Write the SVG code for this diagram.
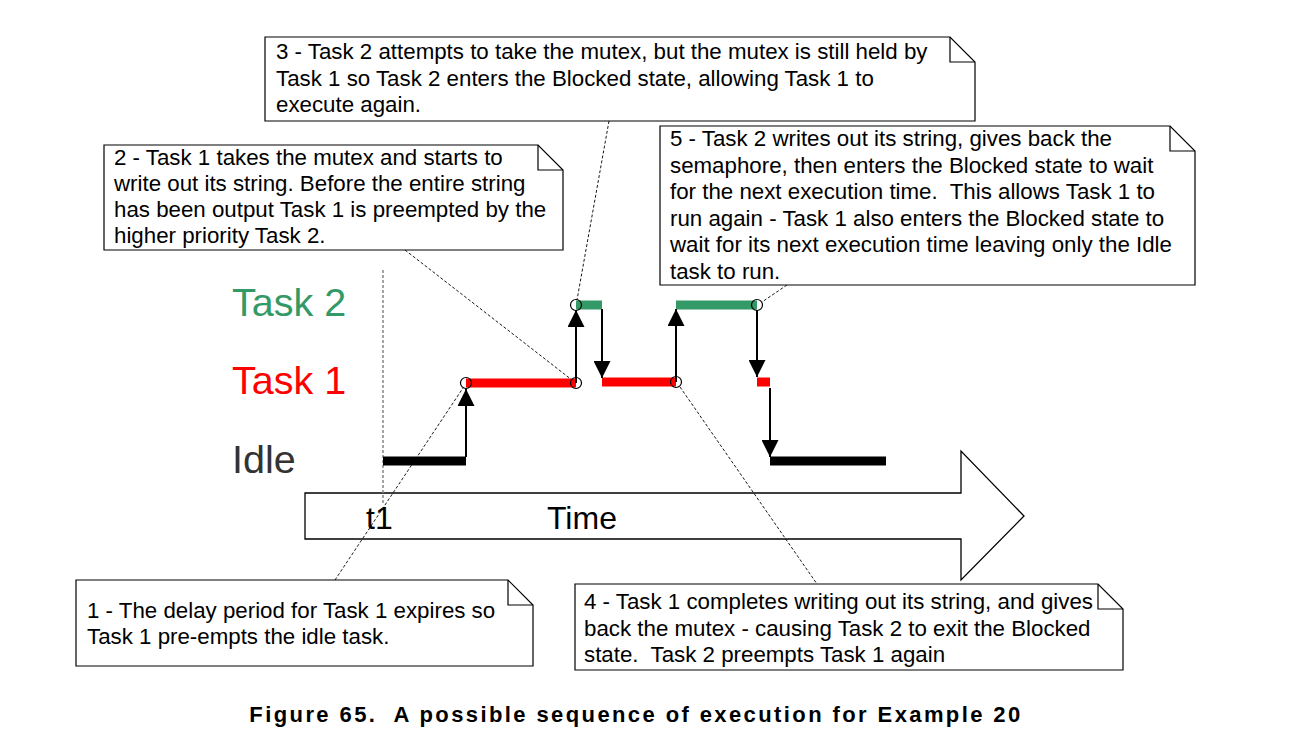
<svg xmlns="http://www.w3.org/2000/svg" width="1313" height="752" viewBox="0 0 1313 752">
<style>
.note{fill:#fff;stroke:#000;stroke-width:1.2}
.fold{fill:none;stroke:#000;stroke-width:1.2}
.nt{font-family:"Liberation Sans",Arial,sans-serif;font-size:22.3px;fill:#000}
.lbl{font-family:"Liberation Sans",Arial,sans-serif;font-size:39.5px}
.lead{stroke:#000;stroke-width:0.9;stroke-dasharray:3 2;fill:none}
.bar{stroke-width:9;fill:none}
.arr{stroke:#000;stroke-width:2;fill:none;marker-end:url(#ah)}
.pt{fill:none;stroke:#000;stroke-width:1.2}
</style>
<defs>
<marker id="ah" viewBox="0 0 10 10" refX="10" refY="5" markerWidth="8.5" markerHeight="8.5" markerUnits="strokeWidth" orient="auto">
<path d="M0,0 L10,5 L0,10 Z" fill="#000"/>
</marker>
</defs>
<rect width="1313" height="752" fill="#fff"/>

<g id="labels">
<text class="lbl" x="232" y="316" fill="#339966">Task 2</text>
<text class="lbl" x="232" y="394" fill="#ff0000">Task 1</text>
<text class="lbl" x="232" y="473" fill="#333333">Idle</text>
</g>

<g id="time-axis">
<path d="M305,493 L961,493 L961,451 L1024,516 L961,580 L961,539 L305,539 Z" fill="#fff" stroke="#000" stroke-width="1.3"/>
<line x1="383" y1="270" x2="383" y2="505" stroke="#888" stroke-width="1.5" stroke-dasharray="3 2"/>
<text x="366" y="529" font-family="Liberation Sans, Arial, sans-serif" font-size="32" fill="#000">t1</text>
<text x="547" y="529" font-family="Liberation Sans, Arial, sans-serif" font-size="32" fill="#000">Time</text>
</g>

<g id="timeline">
<line class="bar" x1="383" y1="461" x2="466" y2="461" stroke="#000"/>
<line class="bar" x1="466" y1="383" x2="576" y2="383" stroke="#ff0000"/>
<line class="bar" x1="576" y1="305" x2="602" y2="305" stroke="#339966"/>
<line class="bar" x1="602" y1="382" x2="676" y2="382" stroke="#ff0000"/>
<line class="bar" x1="676" y1="305" x2="757" y2="305" stroke="#339966"/>
<line class="bar" x1="757" y1="382" x2="770" y2="382" stroke="#ff0000"/>
<line class="bar" x1="770" y1="461" x2="886" y2="461" stroke="#000"/>
</g>

<g id="connectors">
<line class="arr" x1="466" y1="457" x2="466" y2="389"/>
<line class="arr" x1="576" y1="383" x2="576" y2="310"/>
<line class="arr" x1="602" y1="309" x2="602" y2="378"/>
<line class="arr" x1="676" y1="382" x2="676" y2="309"/>
<line class="arr" x1="757" y1="310" x2="757" y2="377"/>
<line class="arr" x1="770" y1="388" x2="770" y2="457"/>
<line class="lead" x1="335" y1="580" x2="463" y2="388"/>
<line class="lead" x1="405" y1="250" x2="572" y2="380"/>
<line class="lead" x1="609" y1="121" x2="577" y2="300"/>
<line class="lead" x1="680" y1="387" x2="817" y2="584"/>
<line class="lead" x1="787" y1="285" x2="762" y2="302"/>
</g>

<g id="points">
<circle class="pt" cx="466" cy="383" r="5.5"/>
<circle class="pt" cx="576" cy="383" r="5.5"/>
<circle class="pt" cx="576" cy="305" r="5.5"/>
<circle class="pt" cx="676" cy="382" r="5.5"/>
<circle class="pt" cx="757" cy="305" r="5.5"/>
</g>

<g id="note3">
<path class="note" d="M265,37 L950,37 L975,62 L975,121 L265,121 Z"/>
<path class="fold" d="M950,37 L950,62 L975,62"/>
<text class="nt"><tspan x="276" y="59">3 - Task 2 attempts to take the mutex, but the mutex is still held by</tspan><tspan x="276" y="85.5">Task 1 so Task 2 enters the Blocked state, allowing Task 1 to</tspan><tspan x="276" y="112">execute again.</tspan></text>
</g>

<g id="note2">
<path class="note" d="M104,145 L538,145 L563,170 L563,250 L104,250 Z"/>
<path class="fold" d="M538,145 L538,170 L563,170"/>
<text class="nt"><tspan x="114" y="165">2 - Task 1 takes the mutex and starts to</tspan><tspan x="114" y="191">write out its string. Before the entire string</tspan><tspan x="114" y="217">has been output Task 1 is preempted by the</tspan><tspan x="114" y="243">higher priority Task 2.</tspan></text>
</g>

<g id="note5">
<path class="note" d="M660,126 L1170,126 L1195,151 L1195,285 L660,285 Z"/>
<path class="fold" d="M1170,126 L1170,151 L1195,151"/>
<text class="nt" xml:space="preserve"><tspan x="670" y="146">5 - Task 2 writes out its string, gives back the</tspan><tspan x="670" y="172.5">semaphore, then enters the Blocked state to wait</tspan><tspan x="670" y="199">for the next execution time.  This allows Task 1 to</tspan><tspan x="670" y="225.5">run again - Task 1 also enters the Blocked state to</tspan><tspan x="670" y="252">wait for its next execution time leaving only the Idle</tspan><tspan x="670" y="278.5">task to run.</tspan></text>
</g>

<g id="note1">
<path class="note" d="M76,580 L508,580 L533,605 L533,666 L76,666 Z"/>
<path class="fold" d="M508,580 L508,605 L533,605"/>
<text class="nt"><tspan x="87" y="618">1 - The delay period for Task 1 expires so</tspan><tspan x="87" y="644">Task 1 pre-empts the idle task.</tspan></text>
</g>

<g id="note4">
<path class="note" d="M575,584 L1098,584 L1123,609 L1123,670 L575,670 Z"/>
<path class="fold" d="M1098,584 L1098,609 L1123,609"/>
<text class="nt" xml:space="preserve"><tspan x="584" y="609">4 - Task 1 completes writing out its string, and gives</tspan><tspan x="584" y="635.5">back the mutex - causing Task 2 to exit the Blocked</tspan><tspan x="584" y="662">state.  Task 2 preempts Task 1 again</tspan></text>
</g>

<g id="caption">
<text x="636" y="722" text-anchor="middle" font-family="Liberation Sans, Arial, sans-serif" font-size="22" font-weight="bold" letter-spacing="2.4" fill="#000" xml:space="preserve">Figure 65.  A possible sequence of execution for Example 20</text>
</g>
</svg>
